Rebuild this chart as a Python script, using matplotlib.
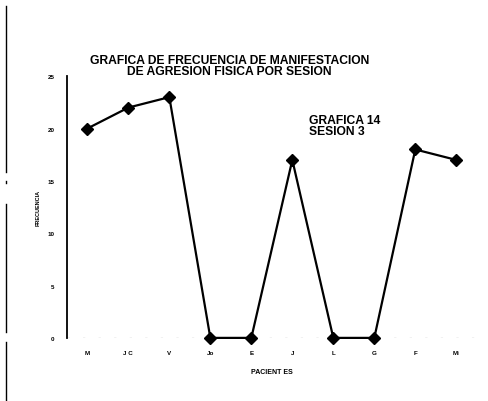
import numpy as np
import matplotlib.pyplot as plt
from matplotlib.lines import Line2D

plt.rc('font', family='Liberation Sans')

#-------------------------------------------------------------------------------
#DATA

pacientes = ['M', 'J C', 'V', 'Jo', 'E', 'J', 'L', 'G', 'F', 'Mi']
frecuencia = [20, 22, 23, 0, 0, 17, 0, 0, 18, 17]
yticks = [0, 5, 10, 15, 20, 25]

#-------------------------------------------------------------------------------
#PLOT

fig = plt.figure(figsize=(4.88, 4.02), dpi=100)
ax = fig.add_axes([0.137, 0.157, 0.84, 0.651])

x = np.arange(len(pacientes))
ax.plot(x, frecuencia, '-', color='black', lw=1.6, marker='D',
        markersize=6.5, markerfacecolor='black', zorder=3, clip_on=False)

ax.set_xlim(-0.5, 9.5)
ax.set_ylim(0, 25)
ax.set_xticks(x)
ax.set_xticklabels(pacientes, fontsize=4.5, fontweight='bold')
ax.set_yticks(yticks)
ax.set_yticklabels([str(v) for v in yticks], fontsize=4.5, fontweight='bold')
ax.tick_params(axis='y', length=0, pad=9)
ax.tick_params(axis='x', length=0, pad=9)

for s in ['top', 'right']:
    ax.spines[s].set_visible(False)
ax.spines['left'].set_linewidth(1.3)
ax.spines['bottom'].set_visible(False)

#broken-looking x axis, as in the scan
ax.axhline(0, color='black', lw=0.8, dashes=(2, 12), zorder=1)

ax.set_xlabel('PACIENT ES', fontsize=5, fontweight='bold', labelpad=9)
ax.set_ylabel('FRECUENCIA', fontsize=4, fontweight='bold', labelpad=5)

fig.text(0.47, 0.835, 'GRAFICA DE FRECUENCIA DE MANIFESTACION\nDE AGRESION FISICA POR SESION',
         ha='center', va='center', fontsize=8.7, fontweight='bold', linespacing=0.95)
fig.text(0.633, 0.685, 'GRAFICA 14\nSESION 3', ha='left', va='center',
         fontsize=8.7, fontweight='bold', linespacing=0.95)

#scan border on the left edge
for y0, y1 in [(0.983, 0.57), (0.548, 0.543), (0.49, 0.172), (0.147, 0.0)]:
    fig.add_artist(Line2D([0.012, 0.012], [y0, y1], color='black', lw=1.0))

fig.savefig('out.png', dpi=100)
